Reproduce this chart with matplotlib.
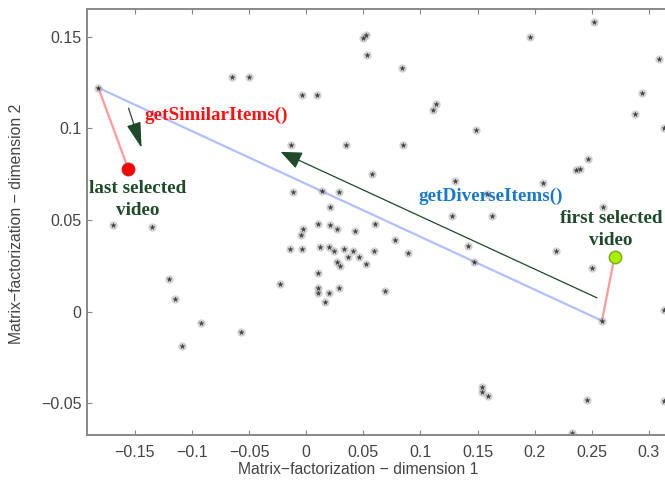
import matplotlib
matplotlib.use("Agg")
import matplotlib.pyplot as plt
import numpy as np

# items in the 2-d factor space (dimension 1, dimension 2)
item_x = [-0.182, -0.065, -0.050, -0.004, 0.009, -0.013, -0.012, 0.014, 0.029, 0.021,
          -0.169, -0.135, -0.003, -0.005, 0.010, 0.021, 0.027, 0.043, 0.060, 0.078,
          -0.014, -0.004, 0.012, 0.020, 0.024, 0.033, 0.041, 0.037, 0.046, 0.059,
          0.089, 0.027, 0.030, 0.052, 0.010, -0.023, 0.010, 0.010, 0.029, 0.020,
          0.016, 0.069, 0.058, 0.050, 0.052, 0.053, 0.084, 0.196, 0.252, 0.309,
          0.294, 0.288, 0.114, 0.111, 0.149, 0.035, 0.085, 0.130, 0.207, 0.247,
          0.236, 0.240, 0.158, 0.260, 0.128, 0.163, 0.313, -0.120, -0.115, -0.092,
          -0.109, -0.057, 0.142, 0.147, 0.219, 0.250, 0.259, 0.154, 0.154, 0.159,
          0.246, 0.233, 0.313, 0.313]
item_y = [0.122, 0.128, 0.128, 0.118, 0.118, 0.091, 0.065, 0.066, 0.065, 0.057,
          0.047, 0.046, 0.045, 0.042, 0.048, 0.047, 0.045, 0.044, 0.048, 0.039,
          0.034, 0.034, 0.035, 0.035, 0.033, 0.034, 0.033, 0.030, 0.030, 0.033,
          0.032, 0.027, 0.025, 0.026, 0.021, 0.015, 0.013, 0.010, 0.013, 0.010,
          0.005, 0.011, 0.075, 0.149, 0.151, 0.140, 0.133, 0.150, 0.158, 0.138,
          0.119, 0.108, 0.113, 0.110, 0.099, 0.091, 0.091, 0.071, 0.070, 0.083,
          0.077, 0.078, 0.064, 0.057, 0.052, 0.052, 0.100, 0.018, 0.007, -0.006,
          -0.019, -0.011, 0.036, 0.027, 0.033, 0.024, -0.005, -0.041, -0.044, -0.046,
          -0.048, -0.066, 0.001, -0.049]

last_sel = (-0.156, 0.078)
first_sel = (0.270, 0.030)
far_a = (-0.182, 0.122)   # most similar to last selected
far_b = (0.259, -0.005)   # most similar to first selected

diverse_arrow = ((0.2546, 0.0075), (-0.0224, 0.0871))
similar_arrow = ((-0.1556, 0.1109), (-0.1442, 0.0893))

xticks = [-0.15, -0.1, -0.05, 0, 0.05, 0.1, 0.15, 0.2, 0.25, 0.3]
yticks = [-0.05, 0, 0.05, 0.1, 0.15]

fig = plt.figure(figsize=(6.65, 4.8), dpi=100)
ax = fig.add_axes([87/665, 45/480, 1 - 87/665, 426/480])

ax.plot([far_a[0], far_b[0]], [far_a[1], far_b[1]], color="#b0c0ff", lw=1.6, zorder=1)
ax.plot([far_a[0], last_sel[0]], [far_a[1], last_sel[1]], color="#ff9a9a", lw=1.6, zorder=1)
ax.plot([far_b[0], first_sel[0]], [far_b[1], first_sel[1]], color="#ff9a9a", lw=1.6, zorder=1)

# blurry looking star markers: soft halo + small dark star
ax.plot(item_x, item_y, linestyle="none", marker="o", ms=6, mew=0, color="#999999",
        alpha=0.45, zorder=2)
ax.plot(item_x, item_y, linestyle="none", marker="*", ms=3.5, mew=0.3, color="#222222",
        alpha=0.8, zorder=2)

ax.plot(*last_sel, marker="o", ms=9, mfc="#ff0000", mec="#cc2222", mew=1, zorder=3)
ax.plot(*first_sel, marker="o", ms=9, mfc="#aaee00", mec="#77aa22", mew=1, zorder=3)

green = "#1f4a2a"
ax.annotate("", xy=diverse_arrow[1], xytext=diverse_arrow[0],
            arrowprops=dict(arrowstyle="-|>,head_length=1.3,head_width=0.55",
                            color=green, lw=0.9, shrinkA=0, shrinkB=0))
ax.annotate("", xy=similar_arrow[1], xytext=similar_arrow[0],
            arrowprops=dict(arrowstyle="-|>,head_length=1.6,head_width=0.45",
                            color=green, lw=0.9, shrinkA=0, shrinkB=0))

serif = dict(family="Liberation Serif", weight="bold", fontsize=13.8)
ax.text(-0.1415, 0.1068, "getSimilarItems()", color="#ff1010", ha="left", va="center", **serif)
ax.text(0.0986, 0.0626, "getDiverseItems()", color="#1a78cc", ha="left", va="center", **serif)
ax.text(-0.1477, 0.0612, "last selected\nvideo", color=green, ha="center", va="center",
        multialignment="center", linespacing=1.35, **serif)
ax.text(0.2669, 0.0448, "first selected\nvideo", color=green, ha="center", va="center",
        multialignment="center", linespacing=1.35, **serif)

ax.set_xlim(-0.192, 0.3142)
ax.set_ylim(-0.0673, 0.165)
ax.set_xticks(xticks)
ax.set_xticklabels(["\u22120.15", "\u22120.1", "\u22120.05", "0", "0.05", "0.1",
                    "0.15", "0.2", "0.25", "0.3"])
ax.set_yticks(yticks)
ax.set_yticklabels(["\u22120.05", "0", "0.05", "0.1", "0.15"])

gray = "#888888"
for s in ["left", "bottom", "top"]:
    ax.spines[s].set_color(gray)
    ax.spines[s].set_linewidth(1.4)
ax.spines["right"].set_visible(False)
ax.tick_params(direction="in", length=3.5, width=0.8, color=gray, top=True,
               labelsize=11.5, labelcolor="#444444", labelfontfamily="Liberation Sans")
ax.tick_params(axis="x", pad=7)
ax.tick_params(axis="y", pad=4)

ax.set_xlabel("Matrix\u2212factorization \u2212 dimension 1", fontsize=11.3,
              color="#444444", family="Liberation Sans")
ax.set_ylabel("Matrix\u2212factorization \u2212 dimension 2", fontsize=11.3,
              color="#444444", family="Liberation Sans")
ax.xaxis.set_label_coords(0.469, -0.063)
ax.yaxis.set_label_coords(-0.109, 0.495)

fig.savefig("out.png", dpi=100)
